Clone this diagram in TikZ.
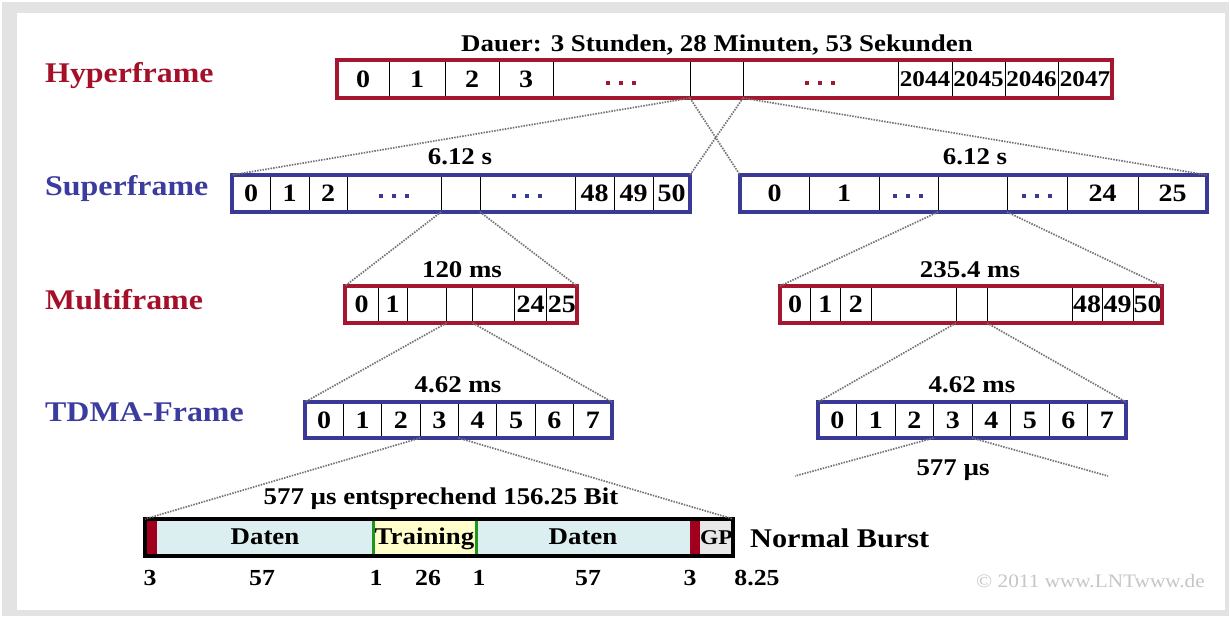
\documentclass[tikz,border=0pt]{standalone}
\usepackage{fontspec}
\setmainfont{Liberation Serif}[FakeStretch=1.12]
\definecolor{hred}{RGB}{165,22,48}
\definecolor{hblue}{RGB}{58,58,150}
\definecolor{lred}{RGB}{165,15,40}
\definecolor{lblue}{RGB}{60,60,160}
\definecolor{bred}{RGB}{160,0,30}
\definecolor{bgreen}{RGB}{30,150,30}
\definecolor{dfill}{RGB}{220,239,240}
\definecolor{tfill}{RGB}{255,255,204}
\definecolor{gfill}{RGB}{232,232,232}
\definecolor{conngray}{RGB}{115,115,115}
\newcommand{\fsz}[1]{\fontsize{#1}{#1}\selectfont\bfseries}
\tikzset{
  cell/.style={draw=black, line width=1pt, inner sep=0pt, outer sep=0pt, font=\fsz{25}},
  frame/.style={draw=#1, line width=3.2pt, inner sep=0pt, outer sep=0pt},
  lbl/.style={inner sep=0pt, font=\fsz{24}},
  side/.style={inner sep=0pt, anchor=base west, font=\fsz{28.5}},
  bseg/.style={inner sep=0pt, outer sep=0pt, minimum height=37, text height=17pt, text depth=2.5pt, font=\fsz{24}},
  conn/.style={draw=conngray, line width=1.7pt, dash pattern=on 1.5pt off 1.2pt},
  gline/.style={draw=bgreen, line width=3pt},
}
\begin{document}
\begin{tikzpicture}[x=1pt,y=-1pt]
\useasboundingbox (0,0) rectangle (1230,618);
\fill[white] (0,0) rectangle (1230,618);
\fill[gray!22] (2,2) rectangle (1229,616);
\fill[white] (17,13) rectangle (1225,610);

% side labels
\node[side, text=lred] (lh) at (45,82) {Hyperframe};
\node[side, text=lblue] (ls) at (45,195) {Superframe};
\node[side, text=lred] (lm) at (45,309) {Multiframe};
\node[side, text=lblue] (lt) at (45,421) {TDMA-Frame};

% Hyperframe
\foreach \a/\b/\t [count=\i from 0] in {337/389/0,389/445/1,445/499/2,499/553/3,553/690/{},690/743/{},743/898/{}}
  \node[cell, minimum width={\b-\a}, minimum height=38] (H\i) at ({(\a+\b)/2},79) {\t};
\foreach \a/\b/\t [count=\i from 7] in {898/952/2044,952/1005/2045,1005/1058/2046,1058/1112/2047}
  \node[cell, font=\fsz{22.5}, minimum width={\b-\a}, minimum height=38] (H\i) at ({(\a+\b)/2},79) {\t};
\node[frame=hred, minimum width=775, minimum height=38] (H) at (724.5,79) {};
\node[lbl] (Hd) at (717,45) {Dauer: 3 Stunden, 28 Minuten, 53 Sekunden};

% Superframe left
\foreach \a/\b/\t [count=\i from 0] in {232/270/0,270/309/1,309/347/2,347/441/{},441/480/{},480/575/{},575/614/48,614/653/49,653/690/50}
  \node[cell, minimum width={\b-\a}, minimum height=37] (SL\i) at ({(\a+\b)/2},193.5) {\t};
\node[frame=hblue, minimum width=458, minimum height=37] (SL) at (461,193.5) {};
\node[lbl] (SLd) at (460,157) {6.12 s};

% Superframe right
\foreach \a/\b/\t [count=\i from 0] in {740/809/0,809/879/1,879/938/{},938/1007/{},1007/1067/{},1067/1138/24,1138/1207/25}
  \node[cell, minimum width={\b-\a}, minimum height=37] (SR\i) at ({(\a+\b)/2},193.5) {\t};
\node[frame=hblue, minimum width=467, minimum height=37] (SR) at (973.5,193.5) {};
\node[lbl] (SRd) at (975,157) {6.12 s};

% Multiframe left
\foreach \a/\b/\t [count=\i from 0] in {345/378/0,378/407/1,407/446.5/{},446.5/472.7/{},472.7/514.7/{},514.7/546.6/24,546.6/577/25}
  \node[cell, minimum width={\b-\a}, minimum height=37] (ML\i) at ({(\a+\b)/2},304.5) {\t};
\node[frame=hred, minimum width=232, minimum height=37] (ML) at (461,304.5) {};
\node[lbl] (MLd) at (462,270) {120 ms};

% Multiframe right
\foreach \a/\b/\t [count=\i from 0] in {780/810/0,810/840.5/1,840.5/871/2,871/956/{},956/987/{},987/1072/{},1072/1102/48,1102/1133/49,1133/1162/50}
  \node[cell, minimum width={\b-\a}, minimum height=37] (MR\i) at ({(\a+\b)/2},304.5) {\t};
\node[frame=hred, minimum width=382, minimum height=37] (MR) at (971,304.5) {};
\node[lbl] (MRd) at (970,270) {235.4 ms};

% TDMA left
\foreach \t [count=\i from 0] in {0,...,7}
  \node[cell, minimum width=38.375, minimum height=36] (TL\i) at ({305+38.375*(\i+0.5)},420) {\t};
\node[frame=hblue, minimum width=307, minimum height=36] (TL) at (458.5,420) {};
\node[lbl] (TLd) at (458,385) {4.62 ms};

% TDMA right
\foreach \t [count=\i from 0] in {0,...,7}
  \node[cell, minimum width=38.5, minimum height=36] (TR\i) at ({818+38.5*(\i+0.5)},420) {\t};
\node[frame=hblue, minimum width=308, minimum height=36] (TR) at (972,420) {};
\node[lbl] (TRd) at (972,385) {4.62 ms};
\node[lbl] (TRb) at (953,470) {577 µs};

% dots
\foreach \cx/\cy/\col in {621/83/hred,820/83/hred,394/196/hblue,527/196/hblue,908/196/hblue,1037/196/hblue}
  \foreach \d in {-13,0,13}
    \fill[\col] ({\cx+\d-2.1},{\cy-2.1}) rectangle ++(4.2,4.2);

% Normal burst
\node[bseg, fill=bred, minimum width=12] (B0) at (151,537.5) {};
\node[bseg, fill=dfill, minimum width=216] (B1) at (265,537.5) {Daten};
\node[bseg, fill=tfill, minimum width=103] (B2) at (424.5,537.5) {Training};
\node[bseg, fill=dfill, minimum width=214] (B3) at (583,537.5) {Daten};
\node[bseg, fill=bred, minimum width=10] (B4) at (695,537.5) {};
\node[bseg, fill=gfill, minimum width=33, font=\fsz{21}] (B5) at (716.5,537.5) {GP};
\draw[gline] (B2.north west) -- (B2.south west);
\draw[gline] (B2.north east) -- (B2.south east);
\node[frame=black, minimum width=588, minimum height=37] (B) at (439,537.5) {};
\node[lbl] (Bd) at (441,499) {577 µs entsprechend 156.25 Bit};
\node[lbl, anchor=west, font=\fsz{27}] (NB) at (750,538) {Normal Burst};

\foreach \x/\t [count=\i] in {150/3,262/57,376/1,428/26,479/1,588/57,690/3,757/8.25}
  \node[lbl, font=\fsz{23}] (n\i) at (\x,578) {\t};

\node[inner sep=0pt, anchor=east, text=gray!45, font=\fontsize{19}{19}\selectfont] (copy) at (1205,581) {© 2011 www.LNTwww.de};

% connectors
\coordinate (e1) at (795,476);
\coordinate (e2) at (1108,476);
\draw[conn] (H5.south west) -- (SL.north west);
\draw[conn] (H5.south west) -- (SR.north west);
\draw[conn] (H5.south east) -- (SL.north east);
\draw[conn] (H5.south east) -- (SR.north east);
\draw[conn] (SL4.south west) -- (ML.north west);
\draw[conn] (SL4.south east) -- (ML.north east);
\draw[conn] (SR3.south west) -- (MR.north west);
\draw[conn] (SR3.south east) -- (MR.north east);
\draw[conn] (ML3.south west) -- (TL.north west);
\draw[conn] (ML3.south east) -- (TL.north east);
\draw[conn] (MR4.south west) -- (TR.north west);
\draw[conn] (MR4.south east) -- (TR.north east);
\draw[conn] (TL3.south west) -- (B.north west);
\draw[conn] (TL3.south east) -- (B.north east);
\draw[conn] (TR3.south west) -- (e1);
\draw[conn] (TR3.south east) -- (e2);
\end{tikzpicture}
\end{document}
